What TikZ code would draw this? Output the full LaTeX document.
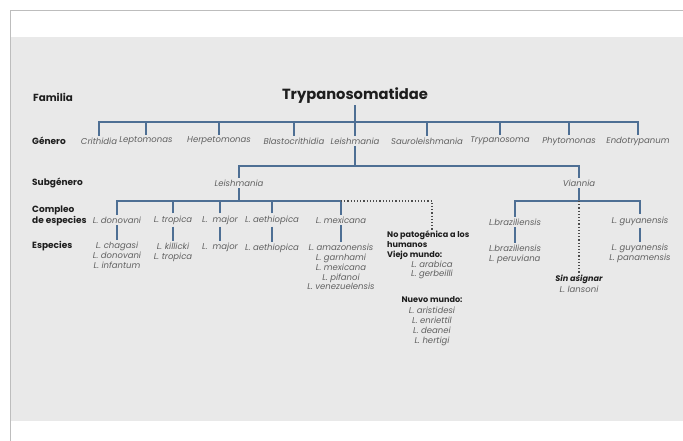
\documentclass[tikz,border=0pt]{standalone}
\usepackage{fontspec}
\setmainfont{Poppins}
\usetikzlibrary{calc}
\definecolor{bgc}{HTML}{E9E9E9}
\definecolor{framec}{HTML}{BDBDBD}
\definecolor{linkc}{HTML}{4E6F94}
\definecolor{greyt}{HTML}{606060}
\definecolor{darkt}{HTML}{1E1E1E}
\tikzset{
  link/.style={draw=linkc,line width=1.7pt,line join=miter},
  dotlink/.style={draw=darkt!80,line width=1.2pt,dotted},
  rowlab/.style={anchor=west,inner sep=0pt,font=\fontsize{9}{11.5}\selectfont\bfseries,text=darkt,align=left},
  titlelab/.style={inner sep=1pt,font=\fontsize{14.7}{16}\selectfont\bfseries,text=darkt},
  taxon/.style={inner sep=2pt,font=\fontsize{8.5}{9.8}\selectfont\itshape,text=greyt,align=center},
  boldlab/.style={inner sep=0pt,font=\fontsize{8.1}{10.2}\selectfont\bfseries,text=darkt,align=left},
}
\begin{document}
\begin{tikzpicture}[x=1pt,y=-1pt]
\useasboundingbox (0,0) rectangle (683,441);
\fill[white] (0,0) rectangle (683,441);
\fill[bgc] (10,37) rectangle (683,421);
\draw[framec,line width=0.8pt] (10,441) -- (10,10) -- (683,10);

% row labels
\node[rowlab,font=\fontsize{10.3}{12}\selectfont\bfseries] (rfam) at (33,97) {Familia};
\node[rowlab] (rgen) at (32,141) {Género};
\node[rowlab] (rsub) at (32,183) {Subgénero};
\node[rowlab] (rcom) at (32,216) {Compleo\\de especies};
\node[rowlab] (resp) at (32,246) {Especies};

% family
\node[titlelab] (fam) at (355,96) {Trypanosomatidae};

% genera
\node[taxon] (g1) at (99,141) {Crithidia};
\node[taxon] (g2) at (146,141) {Leptomonas};
\node[taxon] (g3) at (219,141) {Herpetomonas};
\node[taxon] (g4) at (294,141) {Blastocrithidia};
\node[taxon] (g5) at (355,141) {Leishmania};
\node[taxon] (g6) at (427,141) {Sauroleishmania};
\node[taxon] (g7) at (500,141) {Trypanosoma};
\node[taxon] (g8) at (569,141) {Phytomonas};
\node[taxon] (g9) at (638,141) {Endotrypanum};
\coordinate (gbar) at (355,122);
\draw[link] (fam.south) -- (gbar);
\draw[link] (g1.north) -- (g1.north |- gbar) -- (g9.north |- gbar) -- (g9.north);
\foreach \g in {g2,g3,g4,g5,g6,g7,g8}{\draw[link] (\g.north) -- (\g.north |- gbar);}

% subgenera
\node[taxon] (sl) at (239,183) {Leishmania};
\node[taxon] (sv) at (579,183) {Viannia};
\coordinate (sbar) at (355,166);
\draw[link] (g5.south) -- (sbar);
\draw[link] (sl.north) -- (sl.north |- sbar) -- (sv.north |- sbar) -- (sv.north);

% complexes (Leishmania)
\node[taxon] (c1) at (117,220) {L. donovani};
\node[taxon] (c2) at (173,220) {L. tropica};
\node[taxon] (c3) at (220,220) {L.\ \ major};
\node[taxon] (c4) at (272,220) {L. aethiopica};
\node[taxon] (c5) at (341,220) {L. mexicana};
\coordinate (cbar) at (239,201);
\draw[link] (sl.south) -- (cbar);
\draw[link] (c1.north) -- (c1.north |- cbar) -- (c5.north |- cbar) -- (c5.north);
\foreach \c in {c2,c3,c4}{\draw[link] (\c.north) -- (\c.north |- cbar);}

% complexes (Viannia)
\node[taxon] (c6) at (515,222) {L.braziliensis};
\node[taxon] (c7) at (640,221) {L. guyanensis};
\coordinate (vbar) at (579,201);
\draw[link] (sv.south) -- (vbar);
\draw[link] (c6.north) -- (c6.north |- vbar) -- (c7.north |- vbar) -- (c7.north);

% species
\node[taxon,anchor=north] (s1) at (117,240) {L. chagasi\\L. donovani\\L. infantum};
\node[taxon,anchor=north] (s2) at (173,241) {L. killicki\\L. tropica};
\node[taxon,anchor=north] (s3) at (220,241) {L.\ \ major};
\node[taxon,anchor=north] (s4) at (272,242) {L. aethiopica};
\node[taxon,anchor=north] (s5) at (341,242) {L. amazonensis\\L. garnhami\\L. mexicana\\L. pifanoi\\L. venezuelensis};
\node[taxon,anchor=north,align=left] (s6) at (515,243) {L.braziliensis\\L. peruviana};
\node[taxon,anchor=north] (s7) at (640,242) {L. guyanensis\\L. panamensis};
\foreach \c/\s in {c1/s1,c2/s2,c3/s3,c4/s4,c5/s5,c6/s6,c7/s7}{\draw[link] (\c.south) -- (\c.south |- \s.north);}

% unassigned
\node[boldlab,font=\fontsize{8.1}{10}\selectfont\bfseries\itshape,anchor=north] (sa) at (579,275) {Sin asignar};
\node[taxon,anchor=north,inner sep=0pt] (sal) at (579,286) {L. lansoni};
\draw[dotlink] (vbar) -- (sa.north);

% non-pathogenic
\node[boldlab,anchor=north west] (np) at (387,230.5) {No patogénica a los\\humanos\\Viejo mundo:};
\node[taxon,anchor=north,inner sep=0pt] (npv) at (432,260.5) {L. arabica\\L. gerbeilli};
\coordinate (npdot) at (432,201);
\draw[dotlink] (c5.north |- cbar) -- (npdot) -- (npdot |- np.north);
\node[boldlab,anchor=north] (nm) at (432,296.5) {Nuevo mundo:};
\node[taxon,anchor=north,inner sep=0pt] (nmv) at (432,307) {L. aristidesi\\L. enriettil\\L. deanei\\L. hertigi};
\end{tikzpicture}
\end{document}
